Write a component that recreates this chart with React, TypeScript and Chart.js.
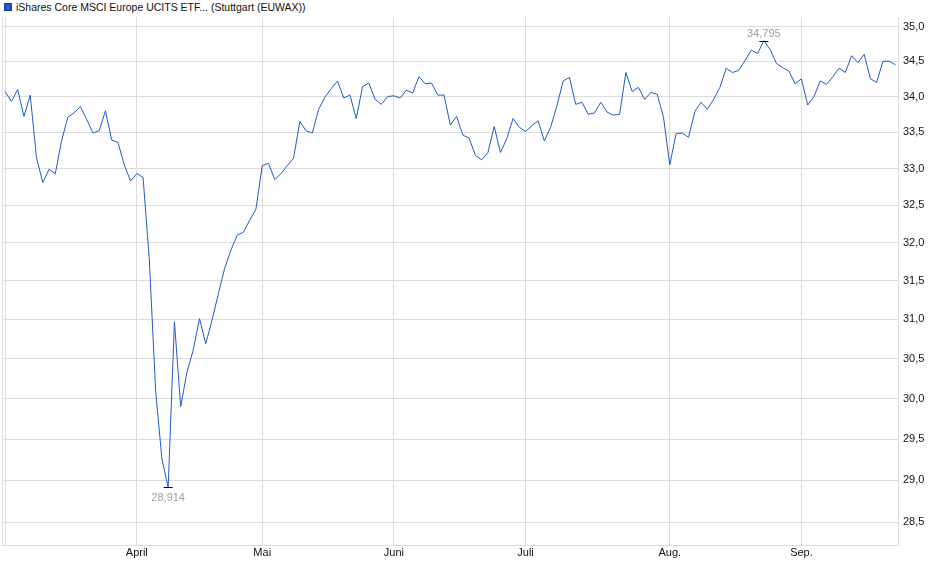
import React, { useEffect, useRef } from "react";
import { Chart, registerables } from "chart.js";

Chart.register(...registerables);

// Daily closing prices (EUR), grouped by month
const marchValues = [
  34.07, 33.93, 34.1, 33.72, 34.02, 33.15, 32.81, 32.99, 32.93, 33.38, 33.71,
  33.77, 33.86, 33.68, 33.49, 33.52, 33.8, 33.39, 33.36, 33.05, 32.83,
];
const aprilValues = [
  32.93, 32.88, 31.77, 30.1, 29.26, 28.914, 30.97, 29.9, 30.33, 30.61, 31.01,
  30.69, 30.99, 31.33, 31.66, 31.9, 32.1, 32.14, 32.3, 32.45,
];
const mayValues = [
  33.04, 33.07, 32.85, 32.93, 33.04, 33.14, 33.65, 33.52, 33.49, 33.82, 33.99,
  34.11, 34.22, 33.98, 34.02, 33.69, 34.14, 34.19, 33.96, 33.89, 34.0,
];
const juneValues = [
  34.01, 33.98, 34.09, 34.05, 34.28, 34.18, 34.19, 34.02, 34.02, 33.6, 33.72,
  33.46, 33.42, 33.18, 33.12, 33.22, 33.58, 33.22, 33.41, 33.69, 33.57,
];
const julyValues = [
  33.51, 33.59, 33.66, 33.38, 33.57, 33.87, 34.22, 34.27, 33.89, 33.92, 33.75,
  33.77, 33.92, 33.78, 33.74, 33.75, 34.34, 34.07, 34.13, 33.96, 34.06, 34.03,
  33.71,
];
const augustValues = [
  33.05, 33.48, 33.49, 33.43, 33.79, 33.92, 33.82, 33.96, 34.13, 34.4, 34.34,
  34.37, 34.51, 34.66, 34.61, 34.795, 34.67, 34.47, 34.41, 34.36, 34.18,
];
const septemberValues = [
  34.25, 33.88, 34.0, 34.22, 34.17, 34.28, 34.4, 34.34, 34.58, 34.48, 34.6,
  34.25, 34.2, 34.5, 34.5, 34.45,
];

const monthGroups = [
  { label: "", values: marchValues },
  { label: "April", values: aprilValues },
  { label: "Mai", values: mayValues },
  { label: "Juni", values: juneValues },
  { label: "Juli", values: julyValues },
  { label: "Aug.", values: augustValues },
  { label: "Sep.", values: septemberValues },
];

const yTicks = [28.5, 29, 29.5, 30, 30.5, 31, 31.5, 32, 32.5, 33, 33.5, 34, 34.5, 35];
const seriesLabel = "iShares Core MSCI Europe UCITS ETF... (Stuttgart (EUWAX))";

const lineColor = "#1e5ac8";
const gridColor = "#dcdcdc";
const fontFamily = '"Liberation Sans", Arial, sans-serif';

const values: number[] = monthGroups.flatMap((g) => g.values);
const points = values.map((v, i) => ({ x: i, y: v }));

// index of the first trading day of each month
const monthStarts: { idx: number; label: string }[] = [];
{
  let acc = 0;
  for (const g of monthGroups) {
    monthStarts.push({ idx: acc, label: g.label });
    acc += g.values.length;
  }
}
const xTickValues = [-0.5, ...monthStarts.map((m) => m.idx)];

const fmt = (v: number, d: number) => v.toFixed(d).replace(".", ",");

const extremaPlugin = {
  id: "extrema",
  afterDatasetsDraw(chart: any) {
    const { ctx } = chart;
    const xs = chart.scales.x;
    const ys = chart.scales.y;
    const minV = Math.min(...values);
    const maxV = Math.max(...values);
    const items = [
      { v: minV, i: values.indexOf(minV), below: true },
      { v: maxV, i: values.indexOf(maxV), below: false },
    ];
    ctx.save();
    for (const it of items) {
      const px = xs.getPixelForValue(it.i);
      const py = Math.round(ys.getPixelForValue(it.v)) + 0.5;
      ctx.strokeStyle = "#000";
      ctx.lineWidth = 1;
      ctx.beginPath();
      ctx.moveTo(px - 4.5, py);
      ctx.lineTo(px + 4.5, py);
      ctx.stroke();
      ctx.fillStyle = "#a0a0a0";
      ctx.font = `11px ${fontFamily}`;
      ctx.textAlign = "center";
      if (it.below) {
        ctx.textBaseline = "top";
        ctx.fillText(fmt(it.v, 3), px, py + 5);
      } else {
        ctx.textBaseline = "bottom";
        ctx.fillText(fmt(it.v, 3), px, py - 2);
      }
    }
    ctx.restore();
  },
};

export default function App() {
  const ref = useRef<HTMLCanvasElement>(null);

  useEffect(() => {
    if (!ref.current) return;
    Chart.defaults.font.family = fontFamily;
    Chart.defaults.font.size = 11;
    const chart = new Chart(ref.current, {
      type: "line",
      data: {
        datasets: [
          {
            label: seriesLabel,
            data: points,
            borderColor: lineColor,
            backgroundColor: lineColor,
            borderWidth: 1,
            pointRadius: 0,
            tension: 0,
            fill: false,
          },
        ],
      },
      options: {
        animation: false,
        responsive: true,
        maintainAspectRatio: false,
        layout: { padding: { left: 2, top: 17, right: 0, bottom: 0 } },
        plugins: { legend: { display: false }, tooltip: { enabled: false } },
        scales: {
          x: {
            type: "linear",
            bounds: "data",
            min: -0.5,
            max: values.length - 0.6,
            afterBuildTicks: (s: any) => {
              s.ticks = xTickValues.map((v) => ({ value: v }));
            },
            afterFit: (s: any) => {
              s.height = 34;
            },
            grid: { color: gridColor, drawTicks: false, lineWidth: 1 },
            border: { color: gridColor },
            ticks: {
              autoSkip: false,
              maxRotation: 0,
              padding: 1,
              color: "#111",
              font: { size: 11 },
              callback: (v: any) => {
                const m = monthStarts.find((ms) => ms.idx === v);
                return m ? m.label : "";
              },
            },
          },
          y: {
            type: "logarithmic",
            position: "right",
            bounds: "data",
            min: 28.233,
            max: 35.139,
            afterBuildTicks: (s: any) => {
              s.ticks = yTicks.map((v) => ({ value: v }));
            },
            afterFit: (s: any) => {
              s.width = 42;
            },
            grid: { color: gridColor, drawTicks: false, lineWidth: 1 },
            border: { color: gridColor },
            ticks: {
              padding: 5,
              color: "#111",
              font: { size: 11 },
              callback: (v: any) => fmt(Number(v), 1),
            },
          },
        },
      },
      plugins: [extremaPlugin],
    });
    return () => chart.destroy();
  }, []);

  return (
    <div
      style={{
        position: "fixed",
        left: 0,
        top: 0,
        width: 940,
        height: 579,
        background: "#fff",
      }}
    >
      <div
        style={{
          position: "absolute",
          left: 4,
          top: 0,
          height: 14,
          display: "flex",
          alignItems: "center",
          fontFamily,
          fontSize: 10.5,
          color: "#111",
          whiteSpace: "nowrap",
        }}
      >
        <span
          style={{
            display: "inline-block",
            width: 6,
            height: 6,
            background: lineColor,
            border: "1px solid #1a3a8a",
            marginRight: 4,
          }}
        />
        <span>{seriesLabel}</span>
      </div>
      <canvas ref={ref} style={{ position: "absolute", left: 0, top: 0 }} />
    </div>
  );
}
